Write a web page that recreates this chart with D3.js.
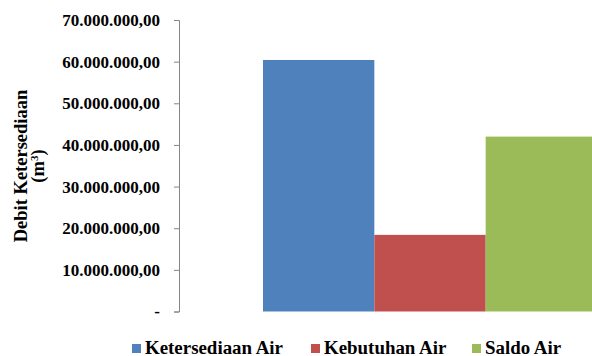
<!DOCTYPE html>
<html>
<head>
<meta charset="utf-8">
<script src="https://cdn.jsdelivr.net/npm/d3@7"></script>
<style>
  body { margin: 0; background: #fff; }
  svg text { font-family: "Liberation Serif", "Times New Roman", serif; font-weight: bold; fill: #000; }
  .axis-y path, .axis-y line { stroke: #868686; }
</style>
</head>
<body>
<div id="chart"></div>
<script>
(function() {
  var categories = ['']
  var series = ['Ketersediaan Air', 'Kebutuhan Air', 'Saldo Air']
  var values = [60400000, 18400000, 42000000]
  var yTicks = [0, 10000000, 20000000, 30000000, 40000000, 50000000, 60000000, 70000000]

  var width = 592
  var height = 356

  var svg = d3.select('#chart')
    .append('svg')
    .attr('width', width)
    .attr('height', height)

  var yPositionScale = d3.scaleLinear().domain([0, 70000000]).range([311.5, 20])
  var xGroupScale = d3.scaleBand().domain(categories).range([179, 681]).paddingOuter(0.2515).paddingInner(0)
  var xSeriesScale = d3.scaleBand().domain(series).range([0, xGroupScale.bandwidth()])
  var colorScale = d3.scaleOrdinal().domain(series).range(['#4F81BD', '#C0504D', '#9BBB59'])

  // 70.000.000,00 style
  var fmt = function(d) {
    if (d === 0) return '-'
    var s = d3.format(',.2f')(d)
    return s.replace(/,/g, '#').replace('.', ',').replace(/#/g, '.')
  }

  var rows = series.map(function(s, i) { return { series: s, value: values[i], category: categories[0] } })

  svg.append('g')
    .attr('class', 'bars')
    .selectAll('.bar')
    .data(rows)
    .enter().append('rect')
    .attr('class', 'bar')
    .attr('x', d => xGroupScale(d.category) + xSeriesScale(d.series))
    .attr('y', d => yPositionScale(d.value))
    .attr('width', xSeriesScale.bandwidth())
    .attr('height', d => yPositionScale(0) - yPositionScale(d.value))
    .attr('fill', d => colorScale(d.series))

  var yAxis = d3.axisLeft(yPositionScale)
    .tickValues(yTicks)
    .tickSize(5)
    .tickPadding(14)
    .tickSizeOuter(5)
    .tickFormat(fmt)
  svg.append('g')
    .attr('class', 'axis axis-y')
    .attr('transform', 'translate(179,0)')
    .call(yAxis)
    .call(g => g.selectAll('text').style('font-size', '17px'))

  // y axis title, two lines
  var title = svg.append('text')
    .attr('transform', 'translate(0,166) rotate(-90)')
    .attr('text-anchor', 'middle')
    .style('font-size', '18.5px')
  title.append('tspan').attr('x', 0).attr('y', 27).text('Debit Ketersediaan')
  var t2 = title.append('tspan').attr('x', 0).attr('y', 44)
  t2.append('tspan').text('(m')
  t2.append('tspan').attr('dy', -6).style('font-size', '11px').text('3')
  t2.append('tspan').attr('dy', 6).text(')')

  // legend
  var legendX = [132, 311, 472]
  var legend = svg.append('g').attr('class', 'legend')
    .selectAll('g')
    .data(series)
    .enter().append('g')
    .attr('transform', (d, i) => 'translate(' + legendX[i] + ',344)')
  legend.append('rect')
    .attr('width', 9)
    .attr('height', 9)
    .attr('fill', d => colorScale(d))
  legend.append('text')
    .attr('x', 13)
    .attr('y', 9.5)
    .style('font-size', '18.9px')
    .text(d => d)
})()
</script>
</body>
</html>
